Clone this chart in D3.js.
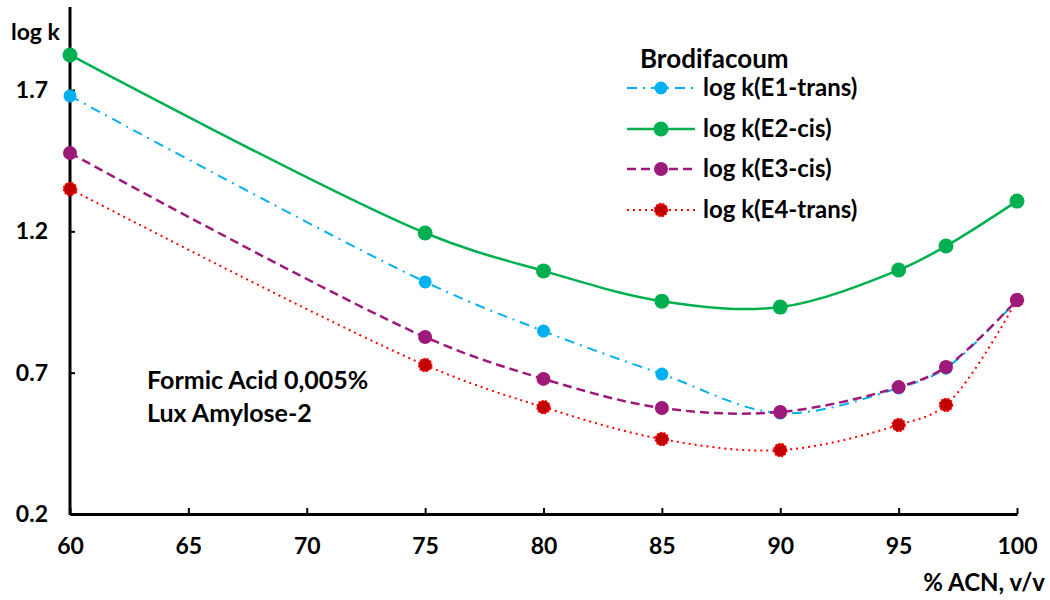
<!DOCTYPE html>
<html><head><meta charset="utf-8">
<script src="https://cdn.jsdelivr.net/npm/d3@7"></script>
<style>body{margin:0;background:#fff}svg{display:block}text{font-family:Lato,"Open Sans",sans-serif;font-weight:bold;fill:#000}</style>
</head><body>
<script>
const acn = [60, 75, 80, 85, 90, 95, 97, 100];
const e1Trans = [1.679, 1.021, 0.847, 0.695, 0.557, 0.646, 0.716, 0.957];
const e2Cis = [1.824, 1.194, 1.060, 0.953, 0.932, 1.063, 1.148, 1.307];
const e3Cis = [1.477, 0.826, 0.678, 0.575, 0.561, 0.649, 0.720, 0.957];
const e4Trans = [1.350, 0.727, 0.578, 0.465, 0.426, 0.515, 0.586, 0.957];
const xTicks = [60, 65, 70, 75, 80, 85, 90, 95, 100];
const yTicks = [0.2, 0.7, 1.2, 1.7];
const seriesNames = ["log k(E1-trans)", "log k(E2-cis)", "log k(E3-cis)", "log k(E4-trans)"];

const W = 1050, H = 600;
const svg = d3.select("body").append("svg").attr("width", W).attr("height", H);
const x = d3.scaleLinear().domain([60, 100]).range([70, 1017]);
const y = d3.scaleLinear().domain([0.2, 1.7]).range([514, 90]);

const series = [
  {name: seriesNames[0], vals: e1Trans, color: "#00B0F0", dash: "10,6,2,6", w: 2, fill: "#00B0F0", r: 6.5},
  {name: seriesNames[1], vals: e2Cis, color: "#00B050", dash: null, w: 2.5, fill: "#00B050", r: 7.5},
  {name: seriesNames[2], vals: e3Cis, color: "#9E1A7A", dash: "9,5", w: 2.5, fill: "#9E1A7A", r: 7},
  {name: seriesNames[3], vals: e4Trans, color: "#FF0000", dash: "2,4", w: 2, fill: "#C00000", r: 6.5}
];

// axes
const xAxis = d3.axisBottom(x).tickValues(xTicks).tickSizeInner(-6).tickSizeOuter(0).tickPadding(24).tickFormat(d3.format("d"));
const gx = svg.append("g").attr("transform", "translate(0,514)").call(xAxis);
gx.select(".domain").attr("stroke", "#000").attr("stroke-width", 3);
gx.selectAll(".tick line").attr("stroke", "#000").attr("stroke-width", 2);
gx.selectAll(".tick text").attr("font-size", 23).attr("dy", "0.71em");

const yAxis = d3.axisLeft(y).tickValues(yTicks).tickSizeInner(-5).tickSizeOuter(0).tickPadding(22).tickFormat(d3.format(".1f"));
const gy = svg.append("g").attr("transform", "translate(70,0)").call(yAxis);
gy.select(".domain").remove();
gy.append("line").attr("x1", 0).attr("x2", 0).attr("y1", 7).attr("y2", 515).attr("stroke", "#000").attr("stroke-width", 3);
gy.selectAll(".tick line").attr("stroke", "#000").attr("stroke-width", 2);
gy.selectAll(".tick text").attr("font-size", 23);

svg.append("text").attr("x", 11).attr("y", 40).attr("font-size", 23).text("log k");
svg.append("text").attr("x", 1045).attr("y", 591).attr("text-anchor", "end").attr("font-size", 24).text("% ACN, v/v");

const line = d3.line().x(d => x(d[0])).y(d => y(d[1])).curve(d3.curveCatmullRom.alpha(0.5));

function marker(g, cx, cy, s) {
  g.append("circle").attr("cx", cx).attr("cy", cy).attr("r", s.r).attr("fill", s.fill)
    .attr("stroke", s.color).attr("stroke-width", s.name === seriesNames[3] ? 1.5 : 0)
    .attr("stroke-dasharray", s.name === seriesNames[3] ? "2,1.5" : null);
}

const order = [3, 0, 2, 1];
order.forEach(i => {
  const s = series[i];
  const pts = acn.map((a, j) => [a, s.vals[j]]);
  const g = svg.append("g");
  g.append("path").attr("d", line(pts)).attr("fill", "none").attr("stroke", s.color)
    .attr("stroke-width", s.w).attr("stroke-dasharray", s.dash);
  pts.forEach(p => marker(g, x(p[0]), y(p[1]), s));
});

// legend
svg.append("text").attr("x", 640).attr("y", 68).attr("font-size", 26).text("Brodifacoum");
const legY = [88, 129, 169, 210];
series.forEach((s, i) => {
  const g = svg.append("g");
  g.append("line").attr("x1", 627).attr("x2", 695).attr("y1", legY[i]).attr("y2", legY[i])
    .attr("stroke", s.color).attr("stroke-width", s.w).attr("stroke-dasharray", s.dash);
  marker(g, 661, legY[i], s);
  g.append("text").attr("x", 703).attr("y", legY[i]).attr("dy", "0.35em").attr("font-size", 24).text(s.name);
});

svg.append("text").attr("x", 147).attr("y", 389).attr("font-size", 25).text("Formic Acid 0,005%");
svg.append("text").attr("x", 147).attr("y", 422).attr("font-size", 25).text("Lux Amylose-2");
</script>
</body></html>
